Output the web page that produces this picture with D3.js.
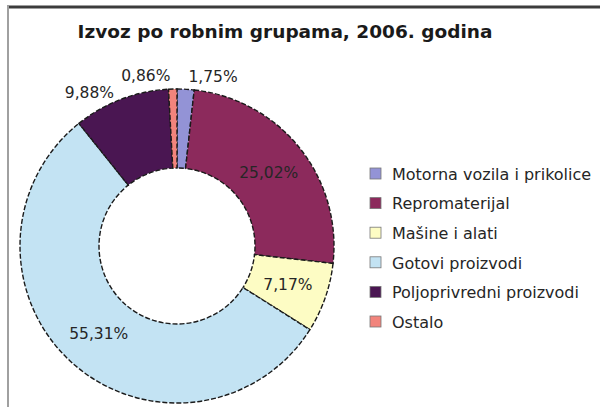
<!DOCTYPE html>
<html>
<head>
<meta charset="utf-8">
<script src="https://cdn.jsdelivr.net/npm/d3@7"></script>
<style>
  body { margin: 0; background: #fff; }
  svg { display: block; }
</style>
</head>
<body>
<div id="chart"></div>
<script>
var title = 'Izvoz po robnim grupama, 2006. godina';
var categories = ['Motorna vozila i prikolice', 'Repromaterijal', 'Mašine i alati',
  'Gotovi proizvodi', 'Poljoprivredni proizvodi', 'Ostalo'];
var values = [1.75, 25.02, 7.17, 55.31, 9.88, 0.86];
var labels = ['1,75%', '25,02%', '7,17%', '55,31%', '9,88%', '0,86%'];
var outsideLabels = ['Motorna vozila i prikolice', 'Poljoprivredni proizvodi', 'Ostalo'];
var colors = ['#9393d6', '#8c2a5c', '#fdfcc4', '#c3e3f3', '#4a1652', '#f2847c'];

var width = 600, height = 407;
var cx = 177, cy = 246, outerR = 157, innerR = 78;

var svg = d3.select('#chart').append('svg')
  .attr('width', width)
  .attr('height', height);

// frame
svg.append('line').attr('x1', 7).attr('x2', width).attr('y1', 7).attr('y2', 7)
  .attr('stroke', '#3c3c3c').attr('stroke-width', 3);
svg.append('line').attr('x1', 8).attr('x2', 8).attr('y1', 6).attr('y2', height)
  .attr('stroke', '#a0a0a0').attr('stroke-width', 2);

svg.append('text')
  .text(title)
  .attr('x', 285)
  .attr('y', 38)
  .attr('text-anchor', 'middle')
  .attr('font-family', 'DejaVu Sans, sans-serif')
  .attr('font-weight', 'bold')
  .attr('font-size', '18.5px')
  .attr('fill', '#1a1a1a');

var color = d3.scaleOrdinal().domain(categories).range(colors);

var pie = d3.pie().sort(null).value(function (d) { return d.value; });
var data = categories.map(function (c, i) { return { name: c, value: values[i], label: labels[i] }; });
var arcs = pie(data);

var arc = d3.arc().innerRadius(innerR).outerRadius(outerR);

var g = svg.append('g').attr('transform', 'translate(' + cx + ',' + cy + ')');

g.selectAll('path.slice')
  .data(arcs)
  .enter().append('path')
  .attr('class', 'slice')
  .attr('d', arc)
  .attr('fill', function (d) { return color(d.data.name); })
  .attr('stroke', '#1a1a1a')
  .attr('stroke-width', 1.4)
  .attr('stroke-dasharray', '5,2');

var labelArc = d3.arc().innerRadius(outerR + 14).outerRadius(outerR + 14);

g.selectAll('text.lbl')
  .data(arcs)
  .enter().append('text')
  .attr('class', 'lbl')
  .text(function (d) { return d.data.label; })
  .attr('font-family', 'DejaVu Sans, sans-serif')
  .attr('font-size', '15.5px')
  .attr('fill', '#262626')
  .each(function (d) {
    var el = d3.select(this);
    var mid = (d.startAngle + d.endAngle) / 2;
    if (outsideLabels.indexOf(d.data.name) >= 0) {
      var p = labelArc.centroid(d);
      el.attr('x', p[0] + (Math.sin(mid) > 0 ? 2 : -2))
        .attr('y', p[1] + Math.abs(Math.sin(mid)) * 18)
        .attr('dy', '0.35em')
        .attr('text-anchor', Math.sin(mid) > 0 ? 'start' : 'end');
    } else {
      var c = arc.centroid(d);
      el.attr('x', c[0]).attr('y', c[1]).attr('dy', '0.35em').attr('text-anchor', 'middle');
    }
  });

// legend
var legend = svg.append('g').attr('transform', 'translate(370,174)');
var rowH = 29.6;
var item = legend.selectAll('g.item')
  .data(categories)
  .enter().append('g')
  .attr('class', 'item')
  .attr('transform', function (d, i) { return 'translate(0,' + (i * rowH) + ')'; });

item.append('rect')
  .attr('x', 0).attr('y', -6)
  .attr('width', 11).attr('height', 11)
  .attr('fill', function (d) { return color(d); })
  .attr('stroke', '#777')
  .attr('stroke-width', 0.8);

item.append('text')
  .text(function (d) { return d; })
  .attr('x', 22)
  .attr('y', 0)
  .attr('dy', '0.36em')
  .attr('font-family', 'DejaVu Sans, sans-serif')
  .attr('font-size', '16px')
  .attr('fill', '#262626');
</script>
</body>
</html>
